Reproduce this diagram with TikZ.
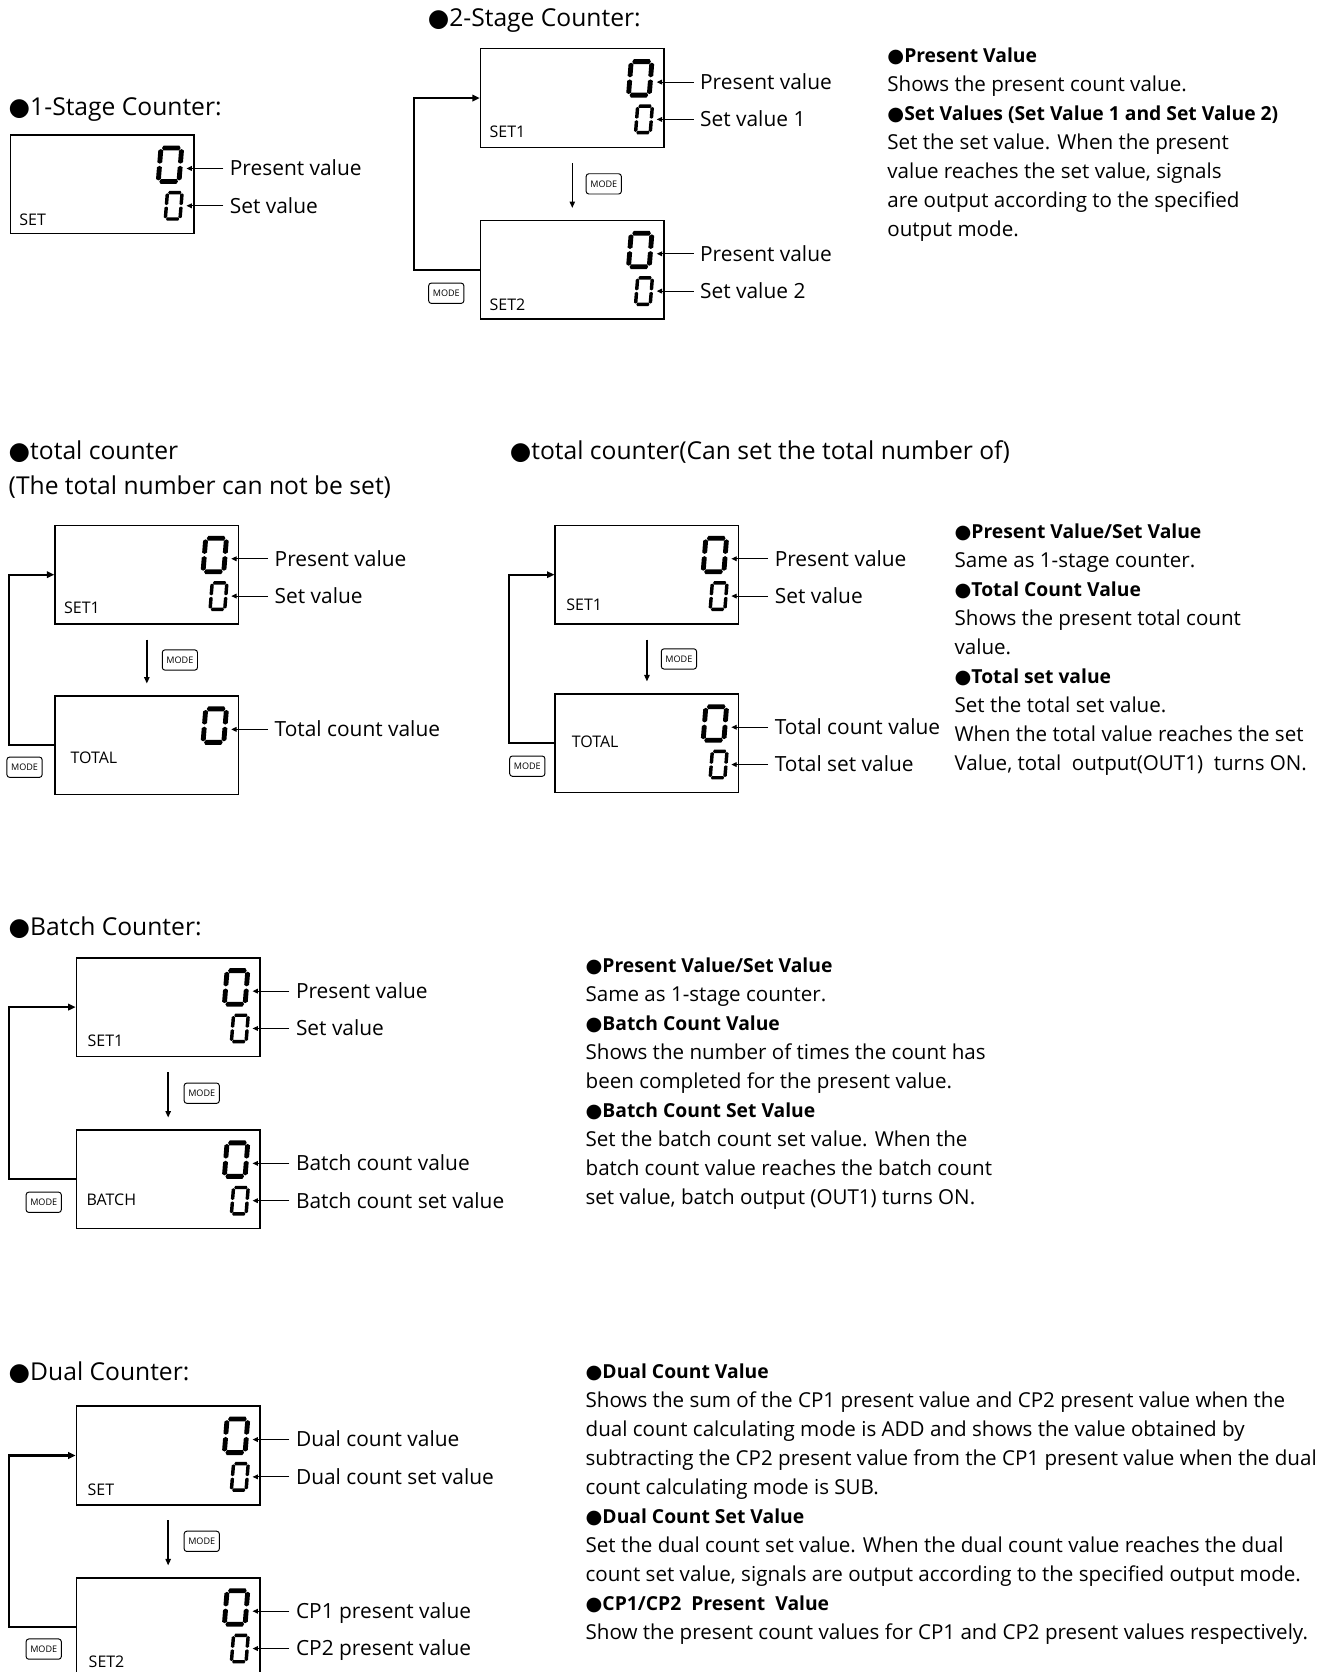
\documentclass[tikz,border=0pt]{standalone}
\usepackage{fontspec}
\setmainfont{Open Sans}
\newfontfamily\symfont{DejaVu Sans}
\usetikzlibrary{arrows.meta,calc}

% one tapered segment of a seven-segment digit (horizontal / vertical)
\newcommand\sghseg[3]{\fill ({#1},{#3}) -- ({#1+\sgE},{#3-\sgT/2}) -- ({#2-\sgE},{#3-\sgT/2}) -- ({#2},{#3}) -- ({#2-\sgE},{#3+\sgT/2}) -- ({#1+\sgE},{#3+\sgT/2}) -- cycle;}
\newcommand\sgvseg[3]{\fill ({#1},{#2}) -- ({#1+\sgT/2},{#2+\sgE}) -- ({#1+\sgT/2},{#3-\sgE}) -- ({#1},{#3}) -- ({#1-\sgT/2},{#3-\sgE}) -- ({#1-\sgT/2},{#2+\sgE}) -- cycle;}
% a seven-segment "0" centred at #1, width #2, height #3
\newcommand\lcdzero[3]{%
  \begin{scope}[shift={(#1)},xslant=0.08]
    \pgfmathsetmacro\sgW{#2/2}%
    \pgfmathsetmacro\sgH{#3/2}%
    \pgfmathsetmacro\sgT{#2*0.19}%
    \pgfmathsetmacro\sgE{\sgT*0.3}%
    \pgfmathsetmacro\sgG{\sgT*0.22}%
    \pgfmathsetmacro\sgXl{-\sgW+\sgT/2}%
    \pgfmathsetmacro\sgXr{\sgW-\sgT/2}%
    \pgfmathsetmacro\sgYt{-\sgH+\sgT/2}%
    \pgfmathsetmacro\sgYb{\sgH-\sgT/2}%
    \sghseg{\sgXl+\sgG}{\sgXr-\sgG}{\sgYt}
    \sghseg{\sgXl+\sgG}{\sgXr-\sgG}{\sgYb}
    \sgvseg{\sgXl}{\sgYt+\sgG}{-\sgG}
    \sgvseg{\sgXl}{\sgG}{\sgYb-\sgG}
    \sgvseg{\sgXr}{\sgYt+\sgG}{-\sgG}
    \sgvseg{\sgXr}{\sgG}{\sgYb-\sgG}
  \end{scope}}
\newcommand\bigzero[1]{\lcdzero{[shift={(-23,28.5)}]#1.north east}{24}{36}}
\newcommand\smallzero[1]{\lcdzero{[shift={(-19.5,67)}]#1.north east}{17}{28}}
% label with a pointer to a digit row (#2 = row offset below the box top)
\newcommand\callout[4]{%
  \node[lbl] (#3) at ([shift={(33,#2)}]#1.north east) {#4};
  \coordinate (#3-tip) at ([shift={(-7.5,#2)}]#1.north east);
  \draw[pointer] ([xshift=-6pt]#3.west) -- (#3-tip);}
\newcommand\blt{{\symfont ●}}
\newcommand\hd[1]{{\fontsize{18.1}{27.2}\selectfont\bfseries\blt #1}}

\begin{document}
\begin{tikzpicture}[x=1pt,y=-1pt,
  lcd/.style={draw, line width=1.4pt, minimum width=172pt, minimum height=92.5pt, anchor=north west, inner sep=0pt},
  lbl/.style={anchor=west, inner sep=0pt, font=\fontsize{19.6}{22}\selectfont, text height=13.8pt, text depth=0pt},
  boxcap/.style={anchor=west, inner sep=0pt, font=\fontsize{15}{18}\selectfont, text height=10.7pt, text depth=0pt},
  modebtn/.style={draw, rounded corners=2.5pt, line width=0.9pt, minimum width=33pt, minimum height=19pt, inner sep=0pt, font=\fontsize{8.5}{10}\selectfont},
  pointer/.style={-{Triangle[length=5pt,width=4.5pt]}, line width=0.9pt},
  loopline/.style={-{Triangle[length=7pt,width=6pt]}, line width=2pt},
  stepline/.style={-{Triangle[length=6pt,width=5pt]}, line width=1.3pt},
  sectitle/.style={anchor=base west, inner sep=0pt, font=\fontsize{23.1}{26}\selectfont},
  coltext/.style={anchor=north west, inner sep=0pt, align=left, font=\fontsize{19.3}{27.2}\selectfont}]
\useasboundingbox (0,0) rectangle (1242,1568);

% ---------- 1-stage counter ----------
\node[sectitle] (h1) at (8,108) {\blt1-Stage Counter:};
\node[lcd] (b1) at (9,126) {};
\node[boxcap] (b1c) at (18,206) {SET};
\bigzero{b1}\smallzero{b1}
\callout{b1}{32}{b1p}{Present value}
\callout{b1}{67}{b1s}{Set value}

% ---------- 2-stage counter ----------
\node[sectitle] (h2) at (401,25) {\blt2-Stage Counter:};
\node[lcd] (s1) at (450,45) {};
\node[lcd] (s2) at (450,206) {};
\node[boxcap] (s1c) at (459,124) {SET1};
\node[boxcap] (s2c) at (459,286) {SET2};
\bigzero{s1}\smallzero{s1}\bigzero{s2}\smallzero{s2}
\callout{s1}{32}{s1p}{Present value}
\callout{s1}{67}{s1s}{Set value 1}
\callout{s2}{32}{s2p}{Present value}
\callout{s2}{67}{s2s}{Set value 2}
\draw[stepline] ([yshift=-14pt]s1.south) -- ([yshift=11pt]s2.north);
\node[modebtn] (sm) at ($(s1.south)!0.5!(s2.north)+(29.5,0)$) {MODE};
\coordinate (sx) at (388,0);
\draw[loopline] (s2.west) -| (sx |- s1.west) -- (s1.west);
\node[modebtn] (sb) at (418.5,275) {MODE};

\node[coltext] (ta) at (832,38.5) {\rule{0pt}{20pt}\hd{Present Value}\\
Shows the present count value.\\
\hd{Set Values (Set Value 1 and Set Value 2)}\\
Set the set value. When the present\\
value reaches the set value, signals\\
are output according to the specified\\
output mode.};

% ---------- total counter (fixed total) ----------
\node[sectitle] (h3) at (8,431) {\blt total counter};
\node[sectitle] (h3b) at (8,464) {(The total number can not be set)};
\node[lcd] (t1) at (51,492) {};
\node[lcd] (t2) at (51,652) {};
\node[boxcap] (t1c) at (60,570) {SET1};
\node[boxcap] (t2c) at (66,711) {TOTAL};
\bigzero{t1}\smallzero{t1}\bigzero{t2}
\callout{t1}{32}{t1p}{Present value}
\callout{t1}{67}{t1s}{Set value}
\callout{t2}{32}{t2p}{Total count value}
\draw[stepline] ([yshift=-14pt]t1.south) -- ([yshift=11pt]t2.north);
\node[modebtn] (tm) at ($(t1.south)!0.5!(t2.north)+(31,0)$) {MODE};
\coordinate (tx) at (8.5,0);
\draw[loopline] (t2.west) -| (tx |- t1.west) -- (t1.west);
\node[modebtn] (tb) at (23,719.5) {MODE};

% ---------- total counter (settable total) ----------
\node[sectitle] (h4) at (478,431) {\blt total counter(Can set the total number of)};
\node[lcd] (r1) at (520,492) {};
\node[lcd] (r2) at (520,650) {};
\node[boxcap] (r1c) at (531,567) {SET1};
\node[boxcap] (r2c) at (536,696) {TOTAL};
\bigzero{r1}\smallzero{r1}\bigzero{r2}\smallzero{r2}
\callout{r1}{32}{r1p}{Present value}
\callout{r1}{67}{r1s}{Set value}
\callout{r2}{32}{r2p}{Total count value}
\callout{r2}{67}{r2s}{Total set value}
\draw[stepline] ([yshift=-14pt]r1.south) -- ([yshift=11pt]r2.north);
\node[modebtn] (rm) at ($(r1.south)!0.5!(r2.north)+(30,0)$) {MODE};
\coordinate (rx) at (477.5,0);
\draw[loopline] (r2.west) -| (rx |- r1.west) -- (r1.west);
\node[modebtn] (rb) at (494.5,718.5) {MODE};

\node[coltext] (tb2) at (895,484.5) {\rule{0pt}{20pt}\hd{Present Value/Set Value}\\
Same as 1-stage counter.\\
\hd{Total Count Value}\\
Shows the present total count\\
value.\\
\hd{Total set value}\\
Set the total set value.\\
When the total value reaches the set\\
Value, total\ \ output(OUT1)\ \ turns ON.};

% ---------- batch counter ----------
\node[sectitle] (h5) at (8,877) {\blt Batch Counter:};
\node[lcd] (c1) at (71,897.5) {};
\node[lcd] (c2) at (71,1059) {};
\node[boxcap] (c1c) at (82,976) {SET1};
\node[boxcap] (c2c) at (81,1125) {BATCH};
\bigzero{c1}\smallzero{c1}\bigzero{c2}\smallzero{c2}
\callout{c1}{32}{c1p}{Present value}
\callout{c1}{67}{c1s}{Set value}
\callout{c2}{32}{c2p}{Batch count value}
\callout{c2}{67}{c2s}{Batch count set value}
\draw[stepline] ([yshift=-14pt]c1.south) -- ([yshift=11pt]c2.north);
\node[modebtn] (cm) at ($(c1.south)!0.5!(c2.north)+(31.5,0)$) {MODE};
\coordinate (cx) at (8.5,0);
\draw[loopline] (c2.west) -| (cx |- c1.west) -- (c1.west);
\node[modebtn] (cb) at (41,1127.5) {MODE};

\node[coltext] (tc) at (549,891.5) {\rule{0pt}{20pt}\hd{Present Value/Set Value}\\
Same as 1-stage counter.\\
\hd{Batch Count Value}\\
Shows the number of times the count has\\
been completed for the present value.\\
\hd{Batch Count Set Value}\\
Set the batch count set value. When the\\
batch count value reaches the batch count\\
set value, batch output (OUT1) turns ON.};

% ---------- dual counter ----------
\node[sectitle] (h6) at (8,1295) {\blt Dual Counter:};
\node[lcd] (d1) at (71,1318) {};
\node[lcd] (d2) at (71,1479) {};
\node[boxcap] (d1c) at (82,1397) {SET};
\node[boxcap] (d2c) at (83,1558) {SET2};
\bigzero{d1}\smallzero{d1}\bigzero{d2}\smallzero{d2}
\callout{d1}{32}{d1p}{Dual count value}
\callout{d1}{67}{d1s}{Dual count set value}
\callout{d2}{32}{d2p}{CP1 present value}
\callout{d2}{67}{d2s}{CP2 present value}
\draw[stepline] ([yshift=-14pt]d1.south) -- ([yshift=11pt]d2.north);
\node[modebtn] (dm) at ($(d1.south)!0.5!(d2.north)+(31.5,0)$) {MODE};
\coordinate (dx) at (8.5,0);
\draw[loopline] (d2.west) -| (dx |- d1.west) -- (d1.west);
\node[modebtn] (db) at (41,1546.5) {MODE};

\node[coltext] (td) at (549,1272.5) {\rule{0pt}{20pt}\hd{Dual Count Value}\\
Shows the sum of the CP1 present value and CP2 present value when the\\
dual count calculating mode is ADD and shows the value obtained by\\
subtracting the CP2 present value from the CP1 present value when the dual\\
count calculating mode is SUB.\\
\hd{Dual Count Set Value}\\
Set the dual count set value. When the dual count value reaches the dual\\
count set value, signals are output according to the specified output mode.\\
\hd{CP1/CP2\ \ Present\ \ Value}\\
Show the present count values for CP1 and CP2 present values respectively.};
\end{tikzpicture}
\end{document}
